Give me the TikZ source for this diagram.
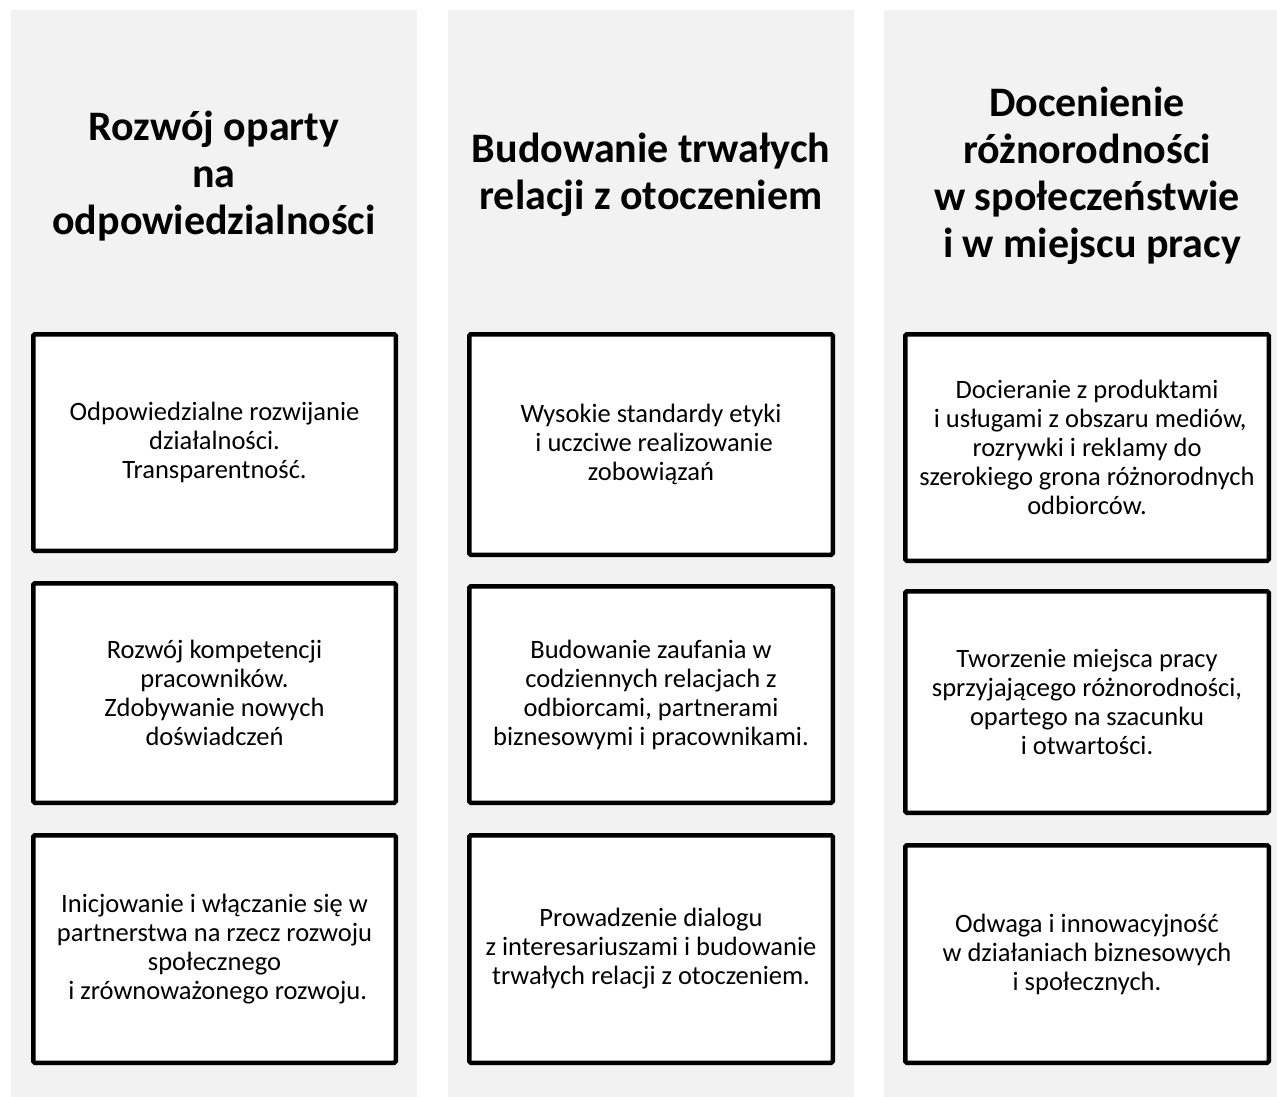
\documentclass[tikz,border=0pt]{standalone}
\usepackage{fontspec}
\setmainfont{Carlito}
\definecolor{panelgray}{HTML}{F2F2F2}
\newcommand{\lsp}{\hspace*{0.24em}}
\begin{document}
\begin{tikzpicture}[x=1pt,y=-1pt,
  panel/.style={fill=panelgray,draw=none},
  card/.style={draw=black,line width=4.5pt,fill=white,rounded corners=1.5pt,
    align=center,inner sep=0pt,outer sep=0pt,text=black,
    font=\fontsize{26.5}{29}\selectfont},
  head/.style={align=center,inner sep=0pt,text=black,
    font=\bfseries\fontsize{42}{47}\selectfont}]
\useasboundingbox (0,0) rectangle (1277,1097);
% column panels
\fill[panel] (11,10) rectangle (417,1097);
\fill[panel] (448,10) rectangle (854,1097);
\fill[panel] (884,10) rectangle (1277,1097);
% headings
\node[head] (h1) at (214,176) {Rozwój oparty\\na\\odpowiedzialności};
\node[head] (h2) at (651,175) {Budowanie trwałych\\relacji z otoczeniem};
\node[head] (h3) at (1087,176) {Docenienie\\różnorodności\\w społeczeństwie\\\lsp i w miejscu pracy};
% column 1
\node[card,minimum width=362.5pt,minimum height=216.5pt] (c11) at (214.5,442.5)
  {Odpowiedzialne rozwijanie\\działalności.\\Transparentność.};
\node[card,minimum width=362.5pt,minimum height=219.5pt] (c12) at (214.5,693)
  {Rozwój kompetencji\\pracowników.\\Zdobywanie nowych\\doświadczeń};
\node[card,minimum width=362.5pt,minimum height=227.5pt] (c13) at (214.5,949)
  {Inicjowanie i włączanie się w\\partnerstwa na rzecz rozwoju\\społecznego\\\lsp i zrównoważonego rozwoju.};
% column 2
\node[card,minimum width=363.5pt,minimum height=220.5pt] (c21) at (651,444.5)
  {Wysokie standardy etyki\\\lsp i uczciwe realizowanie\\zobowiązań};
\node[card,minimum width=363.5pt,minimum height=216.5pt] (c22) at (651,694.5)
  {Budowanie zaufania w\\codziennych relacjach z\\odbiorcami, partnerami\\biznesowymi i pracownikami.};
\node[card,minimum width=363.5pt,minimum height=227.5pt] (c23) at (651,949)
  {Prowadzenie dialogu\\z interesariuszami i budowanie\\trwałych relacji z otoczeniem.};
% column 3
\node[card,minimum width=363.5pt,minimum height=226.5pt] (c31) at (1087,447.5)
  {Docieranie z produktami\\\lsp i usługami z obszaru mediów,\\rozrywki i reklamy do\\szerokiego grona różnorodnych\\odbiorców.};
\node[card,minimum width=363.5pt,minimum height=221.5pt] (c32) at (1087,702)
  {Tworzenie miejsca pracy\\sprzyjającego różnorodności,\\opartego na szacunku\\i otwartości.};
\node[card,minimum width=363.5pt,minimum height=217.5pt] (c33) at (1087,954)
  {Odwaga i innowacyjność\\w działaniach biznesowych\\i społecznych.};
\end{tikzpicture}
\end{document}
